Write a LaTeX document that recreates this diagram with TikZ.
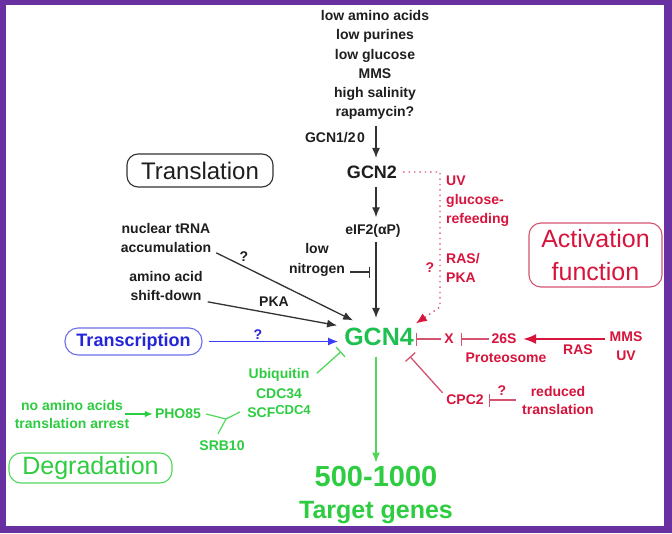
\documentclass[tikz,border=0pt]{standalone}
\usepackage{fontspec}
\setmainfont{Liberation Sans}
\usetikzlibrary{arrows.meta}
\newcommand\myfs[2]{\fontsize{#1}{#2}\selectfont}
\definecolor{framecol}{RGB}{104,48,160}
\definecolor{cblack}{RGB}{30,30,30}
\definecolor{lblack}{RGB}{50,50,50}
\definecolor{myred}{RGB}{214,20,60}
\definecolor{pinkline}{RGB}{212,84,112}
\definecolor{mygreen}{RGB}{46,204,64}
\definecolor{lgreen}{RGB}{80,215,90}
\definecolor{gcngreen}{RGB}{30,192,80}
\definecolor{myblue}{RGB}{36,36,216}
\definecolor{lblue}{RGB}{60,60,250}
\definecolor{boxblue}{RGB}{110,110,232}
\begin{document}
\begin{tikzpicture}[x=1pt,y=-1pt,
  lbl/.style={inner sep=0pt, align=center, font=\myfs{14}{19}\bfseries},
  arr/.style={line width=1.3pt, -{Latex[length=10pt,width=8pt]}},
  inh/.style={line width=1.3pt, -{Bar[width=13pt]}},
  rbox/.style={draw, rounded corners=11pt, line width=1.1pt, inner sep=0pt, align=center}
]
\useasboundingbox (0,0) rectangle (672,533);
\fill[framecol] (0,0) rectangle (672,533);
\fill[white] (6,5) rectangle (664,526);
\coordinate (ax) at (376,0);

% --- translation branch (black)
\node[lbl, text=cblack, font=\myfs{14}{19.1}\bfseries] (stress) at (375,65)
  {low amino acids\\low purines\\low glucose\\MMS\\high salinity\\rapamycin?};
\node[lbl, text=cblack] (gcn120) at (335,138) {GCN1/2\kern1.5pt0};
\node[lbl, text=cblack, font=\myfs{18}{20}\bfseries] (gcn2) at (372,172) {GCN2};
\node[lbl, text=cblack] (eif) at (373,231) {eIF2(αP)};
\node[lbl, text=cblack, font=\myfs{14}{20}\bfseries] (lown) at (317,260) {low\\nitrogen};
\node[lbl, text=cblack] (trna) at (166,238) {nuclear tRNA\\accumulation};
\node[lbl, text=cblack] (aa) at (166,286) {amino acid\\shift-down};
\node[lbl, text=cblack] (q1) at (244,257) {?};
\node[lbl, text=cblack] (pka) at (274,302) {PKA};
\node[rbox, draw=lblack, text=cblack, font=\myfs{24}{26},
  minimum width=146pt, minimum height=33pt] (trl) at (200,170.5) {Translation};

\node[lbl, text=gcngreen, font=\myfs{25}{28}\bfseries] (gcn4) at (379,337) {GCN4};

\draw[arr, lblack, shorten <=6.5pt, shorten >=7.5pt] (stress.south -| ax) -- (gcn2.north -| ax);
\draw[arr, lblack, shorten <=8.5pt, shorten >=7pt] (gcn2.south -| ax) -- (eif.north -| ax);
\draw[arr, lblack, shorten <=4pt, shorten >=10pt] (eif.south -| ax) -- (gcn4.north -| ax);
\coordinate (nb) at (370,272);
\draw[inh, lblack, -{Bar[width=11pt]}] ([xshift=5pt]lown.east |- nb) -- (nb);
\draw[arr, lblack] ([xshift=5pt]trna.south east) -- ([xshift=9pt,yshift=7.5pt]gcn4.north west);
\draw[arr, lblack] ([xshift=5pt,yshift=-1pt]aa.south east) -- ([xshift=-7pt,yshift=2.5pt]gcn4.north west);

% --- transcription (blue)
\node[rbox, draw=boxblue, text=myblue, font=\myfs{18}{20}\bfseries,
  rounded corners=13pt, minimum width=137pt, minimum height=27pt] (trs) at (133.5,341.5) {Transcription};
\node[lbl, text=myblue] (qb) at (258,335) {?};
\draw[arr, lblue, shorten <=6pt, shorten >=6pt] (trs.east) -- (trs.east -| gcn4.west);

% --- degradation (green)
\node[lbl, text=mygreen, font=\myfs{14}{19.5}\bfseries] (scf) at (279,393)
  {Ubiquitin\\CDC34\\SCF\raisebox{3pt}{\myfs{13}{13}CDC4}};
\node[lbl, text=mygreen, font=\myfs{14}{18}\bfseries] (noaa) at (72,414) {no amino acids\\translation arrest};
\node[lbl, text=mygreen] (pho) at (178,414) {PHO85};
\node[lbl, text=mygreen] (srb) at (222,446) {SRB10};
\node[rbox, draw=lgreen, text=mygreen, font=\myfs{25}{27},
  rounded corners=12pt, minimum width=163pt, minimum height=30pt] (deg) at (90.5,468) {Degradation};
\node[lbl, text=mygreen, anchor=north, font=\myfs{25}{32}\bfseries] (tgt) at (376,466)
  {\myfs{29}{32}500-1000\\Target genes};

\draw[inh, lgreen] ([xshift=6pt,yshift=-5pt]scf.north east) -- ([xshift=-3pt,yshift=-5.5pt]gcn4.south west);
\draw[line width=1.3pt, mygreen, -{Latex[length=8pt,width=6.5pt]}] ([xshift=-4pt]noaa.east) -- ([xshift=-2pt]pho.west);
\coordinate (yj) at (226,419);
\draw[line width=1.2pt, lgreen] ([xshift=5pt]pho.east) -- (yj);
\draw[line width=1.2pt, lgreen] ([xshift=-7pt,yshift=6pt]scf.south west) -- (yj);
\draw[line width=1.2pt, lgreen] (yj) -- ([xshift=-4pt,yshift=7pt]srb.north);
\draw[arr, lgreen, shorten <=10.5pt, shorten >=3.5pt] (gcn4.south -| ax) -- (tgt.north -| ax);

% --- activation function (red)
\node[lbl, text=myred, anchor=west, align=left] (uvg) at (446,201) {UV\\glucose-\\refeeding};
\node[lbl, text=myred, anchor=west, align=left] (rpk) at (446,268) {RAS/\\PKA};
\node[lbl, text=myred] (qr) at (430,268) {?};
\node[rbox, draw=pinkline, text=myred, font=\myfs{25}{33},
  rounded corners=12pt, minimum width=133pt, minimum height=64pt] (act) at (595.5,255) {Activation\\function};
\node[lbl, text=myred] (xnode) at (449,339) {X};
\node[lbl, text=myred] (s26) at (504,339) {26S};
\node[lbl, text=myred] (prot) at (506,358) {Proteosome};
\node[lbl, text=myred] (ras) at (578,350) {RAS};
\node[lbl, text=myred] (mu) at (626,346) {MMS\\UV};
\node[lbl, text=myred] (cpc2) at (465,400) {CPC2};
\node[lbl, text=myred] (qc) at (502,391) {?};
\node[lbl, text=myred, font=\myfs{14}{18}\bfseries] (redt) at (558,400) {reduced\\translation};

\coordinate (d1) at (440,172);
\coordinate (d2) at (440,307);
\draw[pinkline, line width=1.4pt, dash pattern=on 1.4pt off 4pt,
  -{Latex[length=11pt,width=9pt,color=myred]}]
  ([xshift=6pt]gcn2.east) -- (d1) -- (d2) -- ([xshift=2pt,yshift=4.5pt]gcn4.north east);
\draw[inh, pinkline] ([xshift=-3pt]xnode.west) -- ([xshift=2pt]gcn4.east |- xnode.west);
\draw[inh, pinkline] ([xshift=-2.5pt]s26.west) -- ([xshift=7pt]xnode.east);
\draw[line width=1.7pt, myred, -{Latex[length=13pt,width=10pt]}, shorten <=4pt, shorten >=6.5pt]
  (mu.west |- s26.east) -- (s26.east);
\draw[inh, pinkline] ([xshift=-3.5pt,yshift=2pt]cpc2.north west) -- ([xshift=-4pt,yshift=-10.5pt]gcn4.south east);
\draw[inh, pinkline] ([xshift=-6pt]redt.west) -- ([xshift=5pt]cpc2.east);
\end{tikzpicture}
\end{document}
